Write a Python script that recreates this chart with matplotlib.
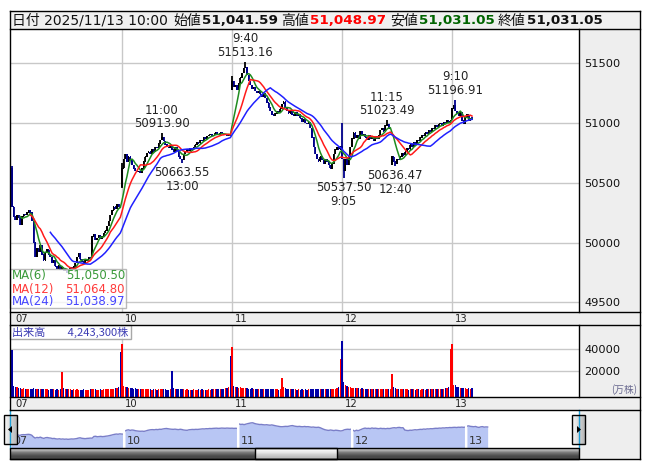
import numpy as np
import pandas as pd
import matplotlib
matplotlib.use("Agg")
import matplotlib.pyplot as plt
from matplotlib.patches import Rectangle, Polygon

# ---- data: 5-minute closes, 66 bars per session (9:00-11:25, 12:30-15:25) ----
close_07 = [50300, 50220, 50190, 50230, 50210, 50150, 50220, 50240, 50230, 50250, 50270, 50250,
            50180, 50000, 49880, 49950, 49920, 49980, 49900, 49850, 49920, 49940, 49900, 49880,
            49830, 49850, 49800, 49780, 49810, 49770, 49790, 49760, 49780, 49750, 49770, 49790,
            49780, 49800, 49830, 49880, 49910, 49860, 49840, 49820, 49850, 49860, 49880, 49870,
            50050, 50070, 50020, 50040, 50060, 50030, 50050, 50080, 50100, 50140, 50180, 50230,
            50270, 50300, 50280, 50320, 50300, 50290]
close_10 = [50620, 50700, 50740, 50680, 50720, 50700, 50650, 50620, 50600, 50590, 50600, 50580,
            50620, 50680, 50720, 50750, 50760, 50740, 50780, 50760, 50800, 50790, 50830, 50860,
            50880, 50850, 50820, 50800, 50790, 50810, 50780, 50760, 50800, 50770, 50720, 50700,
            50690, 50740, 50760, 50780, 50770, 50790, 50780, 50800, 50820, 50840, 50830, 50860,
            50850, 50880, 50870, 50890, 50900, 50910, 50890, 50900, 50920, 50910, 50900, 50920,
            50910, 50900, 50910, 50890, 50900, 50890]
close_11 = [51350, 51300, 51320, 51280, 51330, 51380, 51420, 51460, 51470, 51400, 51350, 51320,
            51290, 51300, 51270, 51250, 51270, 51240, 51220, 51250, 51210, 51170, 51130, 51100,
            51070, 51060, 51080, 51100, 51090, 51120, 51160, 51180, 51130, 51100, 51080, 51100,
            51070, 51060, 51090, 51060, 51070, 51040, 51010, 51030, 51000, 50990, 51010, 50960,
            50880, 50800, 50740, 50700, 50680, 50720, 50690, 50660, 50700, 50680, 50650, 50620,
            50660, 50740, 50780, 50800, 50780, 50810]
close_12 = [50700, 50600, 50700, 50650, 50720, 50800, 50870, 50920, 50880, 50900, 50870, 50930,
            50890, 50910, 50880, 50860, 50900, 50870, 50880, 50850, 50890, 50870, 50900, 50940,
            50960, 50930, 50980, 50990, 50950, 50960, 50720, 50680, 50660, 50700, 50690, 50720,
            50750, 50730, 50760, 50790, 50780, 50820, 50800, 50840, 50830, 50860, 50850, 50880,
            50900, 50890, 50920, 50910, 50940, 50930, 50960, 50950, 50980, 50970, 50990, 51000,
            50980, 51010, 51000, 51020, 51000, 51020]
close_13 = [51120, 51150, 51100, 51080, 51060, 51090, 51020, 50990, 51050, 51070, 51020, 51041.59, 51031.05]

vol_07 = [39400, 6300, 5200, 4600, 4300, 3900, 3600, 3800, 3300, 3500, 3100, 3300,
          3600, 3900, 3400, 3200, 3000, 3300, 2900, 3100, 2800, 3000, 2700, 2900,
          3100, 2800, 2600, 2900, 2700, 3200, 19100, 4300, 3500, 3200, 3000, 2800,
          2700, 2900, 2600, 2800, 2500, 2700, 2600, 2800, 2500, 2600, 2700, 2900,
          3500, 3200, 2800, 2700, 2600, 2800, 2700, 2900, 3000, 3200, 3100, 3300,
          3400, 3600, 3800, 4200, 5000, 37000]
vol_10 = [45000, 6000, 5300, 4800, 4400, 4100, 3900, 3600, 3800, 3400, 3300, 3100,
          3200, 3000, 2900, 3100, 2800, 3000, 2700, 2900, 2800, 2600, 2900, 3000,
          3300, 3100, 2800, 2700, 2600, 3000, 20000, 4100, 3400, 3100, 3000, 2800,
          3200, 2900, 2700, 2800, 2600, 2700, 2500, 2800, 2600, 2700, 2900, 2600,
          2800, 2700, 2500, 2600, 2800, 2700, 2900, 3000, 2800, 3100, 3000, 3200,
          3300, 3500, 3700, 4100, 4800, 34000]
vol_11 = [42000, 5800, 5000, 4700, 4400, 4600, 4200, 4000, 4300, 3800, 3600, 3500,
          3700, 3300, 3200, 3400, 3100, 3000, 3200, 2900, 3100, 2800, 3000, 3300,
          3100, 2900, 2800, 3000, 2700, 3100, 13700, 5200, 3800, 3300, 3100, 2900,
          3000, 2800, 2900, 2700, 2800, 2600, 2900, 2700, 2800, 2600, 2900, 3000,
          3400, 3600, 3300, 3100, 2900, 3000, 2800, 3100, 2900, 3000, 3200, 3100,
          3300, 3400, 3600, 4000, 4700, 30400]
vol_12 = [47500, 10000, 6500, 5600, 5000, 4700, 4500, 4200, 4000, 4300, 3800, 3600,
          3700, 3400, 3300, 3500, 3200, 3000, 3200, 2900, 3100, 2800, 3000, 3300,
          3200, 3000, 3100, 3400, 2900, 3000, 17000, 5400, 4000, 3500, 3200, 3000,
          3100, 2800, 2900, 3000, 2700, 2900, 2800, 3000, 2700, 2800, 2900, 2600,
          2800, 3000, 2700, 2900, 2800, 3100, 2900, 3000, 3200, 3100, 3300, 3200,
          3400, 3600, 3800, 4200, 5100, 39700]
vol_13 = [45000, 6500, 7000, 5200, 4800, 4500, 3900, 4200, 3800, 3600, 4100, 3500, 4243]

day_labels = ["07", "10", "11", "12", "13"]
day_closes = [close_07, close_10, close_11, close_12, close_13]

# session opens (gaps) and extreme wicks
open_fix = {0: 50620, 66: 50470, 132: 51280, 228: 50650, 264: 51030}
high_fix = {0: 50640, 66: 50665, 90: 50913.90, 132: 51390, 140: 51513.16,
            198: 51000, 225: 51023.49, 266: 51196.91, 276: 51048.97}
low_fix = {66: 50460, 102: 50663.55, 199: 50537.50, 230: 50636.47}

peaks = [(90, "11:00", 50913.90), (140, "9:40", 51513.16),
         (225, "11:15", 51023.49), (266, "9:10", 51196.91)]
troughs = [(102, "13:00", 50663.55), (199, "9:05", 50537.50), (230, "12:40", 50636.47)]

ma_periods = [6, 12, 24]
ma_values = ["51,050.50", "51,064.80", "51,038.97"]
ma_colors = ["#1f8c1f", "#ff1a1a", "#2020ff"]
ma_text_colors = ["#3a9a3a", "#ff3b3b", "#4646ff"]

header_items = [("日付 2025/11/13 10:00", False, "#111111"), ("始値", False, "#111111"),
                ("51,041.59", True, "#111111"), ("高値", False, "#111111"),
                ("51,048.97", True, "#ff0000"), ("安値", False, "#111111"),
                ("51,031.05", True, "#006400"), ("終値", False, "#111111"),
                ("51,031.05", True, "#111111")]
header_x = [12, 173, 202, 281, 310, 390, 419, 498, 527]

price_ticks = [49500, 50000, 50500, 51000, 51500]
vol_ticks = [20000, 40000]
vol_title = "出来高　　4,243,300株"

# ---- derived ----
closes = np.array(sum(day_closes, []), float)
vols = np.array(vol_07 + vol_10 + vol_11 + vol_12 + vol_13, float)
n = len(closes)
idx = np.arange(n)
day_starts = np.cumsum([0] + [len(d) for d in day_closes[:-1]])

opens = np.r_[closes[0], closes[:-1]]
for k, v in open_fix.items():
    opens[k] = v
highs = np.maximum(opens, closes)
lows = np.minimum(opens, closes)
for k, v in high_fix.items():
    highs[k] = max(highs[k], v)
for k, v in low_fix.items():
    lows[k] = min(lows[k], v)
up = closes >= opens
s = pd.Series(closes)

LAT = ["DejaVu Sans", "Noto Sans CJK JP"]
CJK = ["Noto Sans CJK JP", "DejaVu Sans"]
GRAY = "#eeeeee"
GRID = "#c8c8c8"

W, H = 653, 470
fig = plt.figure(figsize=(W / 100, H / 100), dpi=100)


def px_axes(x0, y0, x1, y1, z=1):
    return fig.add_axes([x0 / W, 1 - y1 / H, (x1 - x0) / W, (y1 - y0) / H], zorder=z)


def overlay(z):
    a = fig.add_axes([0, 0, 1, 1], zorder=z)
    a.set_xlim(0, W)
    a.set_ylim(H, 0)
    a.axis("off")
    a.patch.set_alpha(0)
    return a


bg = overlay(0)
top = overlay(10)

# background blocks
for (x0, y0, x1, y1, fc) in [(10, 11, 640, 29, "#f0f0f0"), (579, 29, 640, 459, GRAY),
                             (10, 312, 640, 325, GRAY), (10, 397, 640, 410, GRAY)]:
    bg.add_patch(Rectangle((x0, y0), x1 - x0, y1 - y0, fc=fc, ec="none"))

# ---- price panel ----
ax = px_axes(10, 29, 579, 312)
ax.set_xlim(-1.2, 340.2)
ax.set_ylim(49419, 51787)
for sp in ax.spines.values():
    sp.set_visible(False)
ax.set_yticks(price_ticks)
ax.set_xticks(day_starts[1:])
ax.grid(True, color=GRID, lw=1)
ax.set_axisbelow(True)
ax.yaxis.tick_right()
ax.tick_params(length=0, labelbottom=False, labelsize=8.2, pad=4, labelcolor="#111111")

ccol = np.where(up, "#000000", "#00008b")
ax.vlines(idx, lows, highs, colors=ccol, lw=1.3, zorder=3)
ax.bar(idx, np.abs(closes - opens) + 4, bottom=np.minimum(opens, closes) - 2, width=0.95,
       color=ccol, zorder=3)
for p, c in zip(ma_periods, ma_colors):
    ax.plot(idx, s.rolling(p).mean(), color=c, lw=1.1, zorder=4)

for b, t, v in peaks:
    ax.annotate(f"{t}\n{v:.2f}", xy=(b, v), xytext=(0, 3), textcoords="offset pixels",
                ha="center", va="bottom", fontsize=8.4, color="#222222", linespacing=1.05)
for b, t, v in troughs:
    ax.annotate(f"{v:.2f}\n{t}", xy=(b, v), xytext=(0, -3), textcoords="offset pixels",
                ha="center", va="top", fontsize=8.4, color="#222222", linespacing=1.05)

# ---- volume panel ----
vax = px_axes(10, 325, 579, 397)
vbot = -4200
vax.set_xlim(-1.2, 340.2)
vax.set_ylim(vbot, 62100)
for sp in vax.spines.values():
    sp.set_visible(False)
vax.set_yticks(vol_ticks)
vax.set_xticks(day_starts[1:])
vax.grid(True, color=GRID, lw=1)
vax.set_axisbelow(True)
vax.yaxis.tick_right()
vax.tick_params(length=0, labelbottom=False, labelsize=8.2, pad=4, labelcolor="#111111")
vax.bar(idx, vols - vbot, bottom=vbot, width=0.62,
        color=np.where(up, "#ff0000", "#0000a8"))

# day labels on the two date strips
for a in (ax, vax):
    for d, lab in zip(day_starts, day_labels):
        a.annotate(lab, xy=(d, 0), xycoords=("data", "axes fraction"), xytext=(3, -7),
                   textcoords="offset pixels", ha="left", va="center", fontsize=7.2,
                   color="#222222", annotation_clip=False)

# ---- navigator ----
nax = px_axes(10, 410, 579, 448)
nax.set_xlim(-0.58, 328.9)
nax.set_ylim(48850, 52800)
nax.axis("off")
for d0, dc in zip(day_starts, day_closes):
    xx = np.arange(d0, d0 + len(dc))
    nax.fill_between(xx, 48850, dc, color="#b8c6f4", lw=0)
    nax.plot(xx, dc, color="#7a7ec8", lw=1)
for d, lab in zip(day_starts, day_labels):
    if d > 0:
        nax.axvline(d - 0.6, color="white", lw=1.5)
    nax.annotate(lab, xy=(d, 0.18), xycoords=("data", "axes fraction"), xytext=(2, 0),
                 textcoords="offset pixels", ha="left", va="center", fontsize=8,
                 color="#333333")

# scrollbar
grad = np.array([0.80, 0.70, 0.58, 0.47, 0.38, 0.32, 0.28, 0.3]).reshape(-1, 1)
top.imshow(grad, extent=(10, 579, 459, 448), cmap="gray", vmin=0, vmax=1, aspect="auto")
tgrad = np.array([0.99, 0.96, 0.92, 0.86, 0.8, 0.75, 0.72]).reshape(-1, 1)
top.imshow(tgrad, extent=(255, 337, 459, 448), cmap="gray", vmin=0, vmax=1, aspect="auto")
top.add_patch(Rectangle((10, 448), 569, 11, fc="none", ec="black", lw=1))
top.add_patch(Rectangle((255, 448), 82, 11, fc="none", ec="black", lw=1))
bgrad = np.linspace(0.97, 0.72, 8).reshape(1, -1)
for x0, pts in [(4, [(8, 429.5), (12, 426), (12, 433)]),
                (572, [(581, 429.5), (577, 426), (577, 433)])]:
    top.imshow(bgrad, extent=(x0, x0 + 13, 444, 415), cmap="gray", vmin=0, vmax=1,
               aspect="auto")
    top.add_patch(Rectangle((x0, 415), 13, 29, fc="none", ec="black", lw=1))
    top.add_patch(Polygon(pts, closed=True, fc="black", ec="none"))
top.set_xlim(0, W)
top.set_ylim(H, 0)

# ---- frame lines ----
for y in [11, 29, 312, 325, 397, 410, 459]:
    top.plot([10, 640], [y, y], color="black", lw=1)
top.plot([640, 640], [11, 459], color="black", lw=1)
top.plot([10, 10], [11, 410], color="black", lw=1)
for y0, y1 in [(29, 312), (325, 397)]:
    top.plot([579, 579], [y0, y1], color="black", lw=1)
for x in [10, 579]:
    top.plot([x, x], [410, 448], color="#1fa0d8", lw=1, zorder=0)

# header
for (txt, bold, col), x in zip(header_items, header_x):
    if bold:
        top.text(x, 20.5, txt, fontsize=9.7, fontweight="bold", color=col, family=LAT,
                 ha="left", va="center")
    else:
        top.text(x, 20.5, txt, fontsize=10, color=col, family=LAT, ha="left", va="center")

# MA legend box
top.add_patch(Rectangle((10, 269), 116, 39, fc="white", ec="#a8a8a8", lw=1, alpha=0.8))
for i, (p, v, c) in enumerate(zip(ma_periods, ma_values, ma_text_colors)):
    yy = 276 + i * 13
    top.text(12, yy, f"MA({p})", color=c, fontsize=8.5, ha="left", va="center")
    top.text(125, yy, v, color=c, fontsize=8.5, ha="right", va="center")

# volume title box
top.add_patch(Rectangle((10, 325), 121, 14, fc="white", ec="#999999", lw=1, alpha=0.85))
top.text(12, 332, vol_title, fontsize=8, color="#3c3cb4", family=CJK, ha="left", va="center")
top.text(637, 390, "(万株)", fontsize=7, color="#6a6a90", family=CJK, ha="right", va="center")

fig.savefig("out.png", dpi=100)
